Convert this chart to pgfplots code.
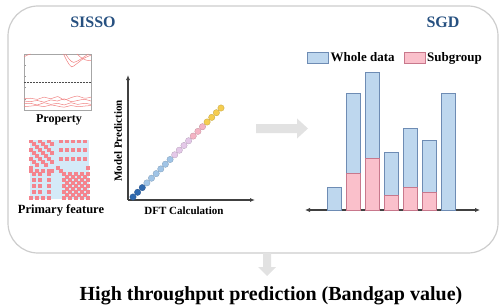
\documentclass[border=0pt]{standalone}
\usepackage{pgfplots}
\pgfplotsset{compat=1.18}
\usepackage{fontspec}
\setmainfont{Liberation Serif}
\usetikzlibrary{arrows.meta}

\definecolor{titleblue}{RGB}{38,80,128}
\definecolor{framegray}{RGB}{205,205,205}
\definecolor{arrowgray}{RGB}{226,226,226}
\definecolor{wholefill}{RGB}{190,215,238}
\definecolor{wholedraw}{RGB}{110,140,180}
\definecolor{subfill}{RGB}{250,192,203}
\definecolor{subdraw}{RGB}{200,120,140}
\definecolor{bandred}{RGB}{240,130,130}
\definecolor{matred}{RGB}{244,132,142}
\definecolor{matblue}{RGB}{212,234,248}
\definecolor{ptdark}{RGB}{47,105,175}
\definecolor{ptlight}{RGB}{160,196,230}
\definecolor{ptlav}{RGB}{228,200,232}
\definecolor{ptpink}{RGB}{244,180,196}
\definecolor{ptyellow}{RGB}{245,205,80}

\begin{document}
\begin{tikzpicture}
\path (0pt,0pt) rectangle (501pt,304pt);

% frame
\draw[framegray, line width=1.2pt, rounded corners=30pt] (8pt,51pt) rectangle (498pt,298pt);

% titles
\node[anchor=base, text=titleblue, font=\bfseries\fontsize{16pt}{18pt}\selectfont] at (93pt,276pt) {SISSO};
\node[anchor=base, text=titleblue, font=\bfseries\fontsize{16pt}{18pt}\selectfont] at (443pt,276pt) {SGD};

% ---------- Property (band structure) ----------
\begin{axis}[at={(24pt,194pt)}, anchor=south west, width=67pt, height=56pt, scale only axis,
  xmin=0, xmax=10, ymin=0, ymax=10,
  axis line style={black!35, line width=0.6pt},
  xtick=\empty, ytick={2,4,6,8}, yticklabels={}, ytick pos=left,
  tick style={black!40, line width=0.4pt}, major tick length=2pt, tick align=inside]
  \addplot[bandred, line width=0.5pt, smooth] coordinates {(0,9.5) (0.5,9.8) (1,10)};
  \addplot[bandred, line width=0.5pt, smooth] coordinates {(5.9,10) (6.5,8.6) (7.1,7.7) (7.8,8.2) (8.9,9.2) (10,9.8)};
  \addplot[bandred, line width=0.5pt, smooth] coordinates {(6.2,10) (6.8,9.0) (7.4,8.5) (8.2,8.9) (9.1,9.6) (9.6,10)};
  \addplot[bandred, line width=0.5pt, smooth] coordinates {(7.9,10) (8.6,9.3) (9.3,8.9) (10,8.8)};
  \addplot[black!70, densely dotted, line width=0.5pt] coordinates {(0,5.0) (10,5.0)};
  \addplot[bandred, line width=0.5pt, smooth] coordinates {(0,2.0) (1,2.1) (2,1.9) (3,2.3) (4,2.0) (5,2.4) (6,1.8) (7,2.2) (8,2.5) (9,2.1) (10,2.3)};
  \addplot[bandred, line width=0.5pt, smooth] coordinates {(0,1.6) (1,1.5) (2,1.7) (3,1.4) (4,1.8) (5,1.6) (6,2.0) (7,1.5) (8,1.7) (9,1.9) (10,1.6)};
  \addplot[bandred, line width=0.5pt, smooth] coordinates {(0,1.1) (1,1.2) (2,0.9) (3,1.3) (4,1.0) (5,1.2) (6,0.9) (7,1.3) (8,1.0) (9,1.2) (10,1.0)};
  \addplot[bandred, line width=0.5pt, smooth] coordinates {(0,0.6) (1,0.7) (2,0.8) (3,0.6) (4,0.9) (5,0.7) (6,0.5) (7,0.8) (8,0.6) (9,0.7) (10,0.8)};
\end{axis}
\node[anchor=base, font=\bfseries\fontsize{12pt}{14pt}\selectfont] at (59pt,182pt) {Property};

% ---------- Primary feature (matrix) ----------
\begin{axis}[at={(30pt,105pt)}, anchor=south west, width=59pt, height=59pt, scale only axis,
  xmin=-0.5, xmax=19.5, ymin=-19.5, ymax=0.5, clip=false,
  axis line style={draw=none}, ticks=none,
  axis background/.style={fill=matblue}]
  \addplot[matred, only marks, mark=square*, mark size=1.475pt, mark options={draw=matred, line width=0pt}] coordinates {
   (0,0) (3,0) (6,0) (10,0) (12,0) (14,0) (16,0) (18,0)
   (1,-1) (4,-1) (7,-1)
   (2,-2) (5,-2)
   (0,-3) (3,-3) (6,-3) (10,-3) (12,-3) (14,-3) (16,-3) (18,-3)
   (1,-4) (4,-4) (7,-4)
   (2,-5) (5,-5)
   (0,-6) (3,-6) (6,-6) (10,-6) (12,-6) (14,-6) (16,-6) (18,-6)
   (1,-7) (4,-7) (7,-7)
   (2,-8) (5,-8)
   (0,-9) (9,-9) (19,-9)
   (0,-10) (2,-10) (4,-10) (6,-10) (7,-10) (10,-10)
   (1,-11) (3,-11) (6,-11) (11,-11) (13,-11) (15,-11) (17,-11) (19,-11)
   (12,-12) (14,-12) (16,-12) (18,-12)
   (1,-13) (3,-13) (6,-13) (11,-13) (13,-13) (15,-13) (17,-13) (19,-13)
   (12,-14) (14,-14) (16,-14) (18,-14)
   (1,-15) (3,-15) (6,-15) (11,-15) (13,-15) (15,-15) (17,-15) (19,-15)
   (12,-16) (14,-16) (16,-16) (18,-16)
   (1,-17) (3,-17) (6,-17) (11,-17) (13,-17) (15,-17) (17,-17) (19,-17)
   (12,-18) (14,-18) (16,-18) (18,-18)
   (0,-19) (2,-19) (4,-19) (6,-19) (11,-19) (13,-19) (15,-19) (17,-19) (19,-19)
  };
\end{axis}
\node[anchor=base, font=\bfseries\fontsize{12.5pt}{14pt}\selectfont] at (61pt,91pt) {Primary feature};

% ---------- Scatter parity plot ----------
\begin{axis}[at={(128pt,104pt)}, anchor=south west, width=127pt, height=125pt, scale only axis,
  xmin=0, xmax=127, ymin=0, ymax=125, axis lines=left,
  axis line style={-{Latex[length=5pt,width=4pt]}, line width=1.1pt, black!75},
  ticks=none, clip=false]
  \addplot[only marks, mark=*, mark size=3.2pt, mark options={fill=ptdark, draw=ptdark!80!black, line width=0.3pt}] coordinates {
   (5,3) (9.6,7.7) (14.3,12.4)};
  \addplot[only marks, mark=*, mark size=3.2pt, mark options={fill=ptlight, draw=ptlight!80!black, line width=0.3pt}] coordinates {
   (18.9,17.1) (23.5,21.8) (28.2,26.4) (32.8,31.1) (37.4,35.8) (42.1,40.5)};
  \addplot[only marks, mark=*, mark size=3.2pt, mark options={fill=ptlav, draw=ptlav!80!black, line width=0.3pt}] coordinates {
   (46.7,45.2) (51.3,49.8) (56,54.5) (60.6,59.2)};
  \addplot[only marks, mark=*, mark size=3.2pt, mark options={fill=ptpink, draw=ptpink!80!black, line width=0.3pt}] coordinates {
   (65.2,63.9) (69.9,68.6) (74.5,73.3)};
  \addplot[only marks, mark=*, mark size=3.2pt, mark options={fill=ptyellow, draw=ptyellow!80!black, line width=0.3pt}] coordinates {
   (79.1,78) (83.7,82.6) (88.4,87.3) (93,92)};
\end{axis}
\node[rotate=90, font=\bfseries\fontsize{11pt}{13pt}\selectfont] at (118pt,163pt) {Model Prediction};
\node[anchor=base, font=\bfseries\fontsize{11pt}{13pt}\selectfont] at (184pt,90pt) {DFT Calculation};

% gray arrow right
\fill[arrowgray] (256pt,171pt) -- (297pt,171pt) -- (297pt,165.5pt) -- (308pt,175.5pt) -- (297pt,185.5pt) -- (297pt,180pt) -- (256pt,180pt) -- cycle;

% ---------- SGD bar chart ----------
\begin{axis}[at={(305pt,94pt)}, anchor=south west, width=175pt, height=140pt, scale only axis,
  xmin=0, xmax=175, ymin=0, ymax=140,
  axis x line=bottom, axis y line=none,
  x axis line style={{Latex[length=5pt,width=4.5pt]}-{Latex[length=5pt,width=4.5pt]}, line width=1.1pt, black!75},
  ticks=none, clip=false,
  ybar, bar width=13.5pt,
  legend style={at={(axis cs:2,152.5)}, anchor=west, draw=none, fill=none, inner sep=0pt,
    font=\bfseries\fontsize{13pt}{15pt}\selectfont,
    /tikz/every even column/.append style={column sep=7pt}},
  legend columns=2,
  legend image code/.code={\draw[#1,/tikz/.cd] (-4pt,-5.5pt) rectangle (17pt,5.5pt);}]
  \addplot[bar shift=0pt, fill=wholefill, draw=wholedraw, line width=0.5pt] coordinates {
   (29,23) (48,117) (67,138) (86,58) (105,82) (124,70) (143,117)};
  \addlegendentry{Whole data}
  \addplot[bar shift=0pt, fill=subfill, draw=subdraw, line width=0.5pt] coordinates {
   (48,37) (67,52) (86,15) (105,23) (124,18)};
  \addlegendentry{Subgroup}
\end{axis}

% gray arrow down
\fill[arrowgray] (263pt,51pt) -- (271pt,51pt) -- (271pt,37pt) -- (276pt,37pt) -- (267pt,28pt) -- (258pt,37pt) -- (263pt,37pt) -- cycle;

\node[anchor=base, font=\bfseries\fontsize{20pt}{24pt}\selectfont] at (271pt,4pt) {High throughput prediction (Bandgap value)};
\end{tikzpicture}
\end{document}
